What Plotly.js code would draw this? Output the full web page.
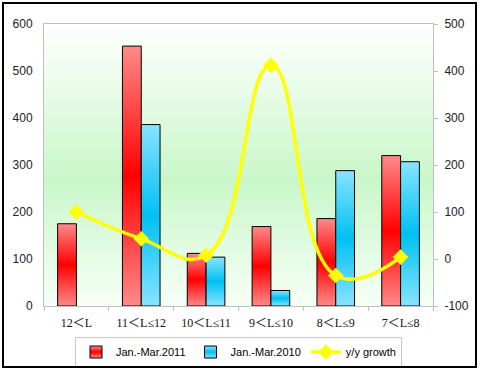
<!DOCTYPE html>
<html>
<head>
<meta charset="utf-8">
<script src="https://cdn.plot.ly/plotly-3.0.1.min.js"></script>
<style>
  html, body { margin: 0; padding: 0; background: #fff; }
  #wrap { position: relative; width: 480px; height: 369px; }
  #chart { position: absolute; left: 0; top: 0; width: 480px; height: 369px; }
  #frame { position: absolute; left: 2px; top: 2px; width: 471px; height: 362px; border: 2px solid #000; pointer-events: none; }
</style>
</head>
<body>
<div id="wrap"><div id="chart"></div><div id="frame"></div></div>
<script>
const categories = ["12＜L", "11＜L≤12", "10＜L≤11", "9＜L≤10", "8＜L≤9", "7＜L≤8"];
const sales2011 = [175, 553, 112, 169, 186, 320];
const sales2010 = [null, 386, 104, 33, 288, 307];
const growth = [100, 43, 8, 412, -35, 4];
const leftTicks = [0, 100, 200, 300, 400, 500, 600];
const rightTicks = [-100, 0, 100, 200, 300, 400, 500];

const bgSvg = 'data:image/svg+xml;utf8,' + encodeURIComponent(
  '<svg xmlns="http://www.w3.org/2000/svg" width="100" height="100" preserveAspectRatio="none">' +
  '<defs><linearGradient id="g" x1="0" y1="0" x2="0" y2="1">' +
  '<stop offset="0" stop-color="#ffffff"/>' +
  '<stop offset="0.55" stop-color="#c9f7c9"/>' +
  '<stop offset="1" stop-color="#f6fff6"/>' +
  '</linearGradient></defs><rect width="100" height="100" fill="url(#g)"/></svg>');

const traces = [
  { type: 'bar', name: 'Jan.-Mar.2011', x: categories, y: sales2011,
    marker: { color: '#ff4040', line: { color: '#000', width: 1 } }, yaxis: 'y' },
  { type: 'bar', name: 'Jan.-Mar.2010', x: categories, y: sales2010,
    marker: { color: '#30c8f4', line: { color: '#000', width: 1 } }, yaxis: 'y' },
  { type: 'scatter', mode: 'lines+markers', name: 'y/y growth', x: categories, y: growth,
    yaxis: 'y2', line: { color: '#ffff00', width: 3.5, shape: 'spline', smoothing: 1.3 },
    marker: { symbol: 'diamond', size: 12, color: '#ffff00' } }
];

const axisFont = { family: 'Liberation Sans, Arial, sans-serif', size: 12, color: '#222' };

const layout = {
  width: 480, height: 369,
  margin: { l: 44, r: 47, t: 24, b: 63 },
  paper_bgcolor: '#ffffff',
  plot_bgcolor: 'rgba(0,0,0,0)',
  barmode: 'group',
  bargap: 0.42,
  bargroupgap: 0,
  showlegend: true,
  legend: {
    orientation: 'h', xref: 'paper', x: 0.5, xanchor: 'center',
    yref: 'container', y: 0.046, yanchor: 'middle',
    bgcolor: '#ffffff', bordercolor: '#c8c8c8', borderwidth: 1,
    font: { family: 'Liberation Sans, Arial, sans-serif', size: 11, color: '#000' },
    itemwidth: 30, tracegroupgap: 0
  },
  xaxis: {
    type: 'category', showgrid: false, zeroline: false,
    showline: true, linecolor: '#c0c0c0', linewidth: 1, mirror: true,
    ticks: 'outside', tickson: 'boundaries', ticklen: 4, tickcolor: '#c0c0c0',
    tickfont: { family: 'Liberation Serif, Noto Sans CJK SC, serif', size: 12, color: '#111' },
    ticklabelstandoff: 6, automargin: false
  },
  yaxis: {
    range: [0, 600], tickvals: leftTicks, ticktext: leftTicks.map(String),
    showgrid: false, zeroline: false, showline: true, linecolor: '#c0c0c0', linewidth: 1,
    ticks: '', tickfont: axisFont, ticklabelstandoff: 8, automargin: false
  },
  yaxis2: {
    overlaying: 'y', side: 'right', range: [-100, 500], tickvals: rightTicks, ticktext: rightTicks.map(String),
    showgrid: false, zeroline: false, showline: true, linecolor: '#c0c0c0', linewidth: 1,
    ticks: 'outside', ticklen: 4, tickcolor: '#c0c0c0', tickfont: axisFont, ticklabelstandoff: 4, automargin: false
  },
  images: [{ source: bgSvg, xref: 'paper', yref: 'paper', x: 0, y: 1, sizex: 1, sizey: 1,
    sizing: 'stretch', xanchor: 'left', yanchor: 'top', layer: 'below' }]
};

Plotly.newPlot('chart', traces, layout, { staticPlot: true, displayModeBar: false }).then(function (gd) {
  const svg = gd.querySelector('svg.main-svg');
  const ns = 'http://www.w3.org/2000/svg';
  let defs = svg.querySelector('defs');
  if (!defs) { defs = document.createElementNS(ns, 'defs'); svg.insertBefore(defs, svg.firstChild); }
  function addGrad(id, edge, mid) {
    const g = document.createElementNS(ns, 'linearGradient');
    g.setAttribute('id', id); g.setAttribute('x1', '0'); g.setAttribute('y1', '0');
    g.setAttribute('x2', '0'); g.setAttribute('y2', '1');
    [[0, edge], [0.5, mid], [1, edge]].forEach(function (s) {
      const st = document.createElementNS(ns, 'stop');
      st.setAttribute('offset', s[0]); st.setAttribute('stop-color', s[1]);
      g.appendChild(st);
    });
    defs.appendChild(g);
  }
  addGrad('redGrad', '#ff8a8a', '#ff0000');
  addGrad('blueGrad', '#88e4ff', '#00c0f2');
  const barTraces = gd.querySelectorAll('.barlayer .trace.bars');
  const ids = ['redGrad', 'blueGrad'];
  barTraces.forEach(function (t, i) {
    t.querySelectorAll('path').forEach(function (p) { p.style.fill = 'url(#' + ids[i] + ')'; });
  });
  const legendBars = gd.querySelectorAll('.legend .traces');
  legendBars.forEach(function (t, i) {
    if (i < 2) t.querySelectorAll('.legendpoints path').forEach(function (p) { p.style.fill = 'url(#' + ids[i] + ')'; });
  });
});
</script>
</body>
</html>
